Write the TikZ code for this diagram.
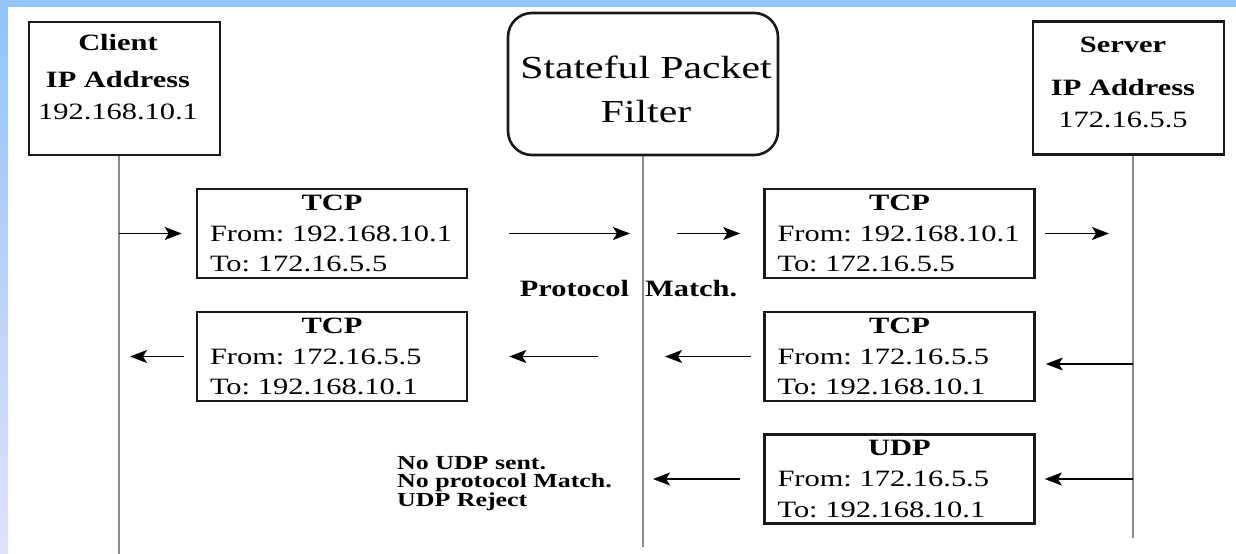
\documentclass[tikz,border=0pt]{standalone}
\usepackage{fontspec}
\setmainfont{Liberation Serif}[FakeStretch=1.3]
\usetikzlibrary{arrows.meta}

\definecolor{frameblue}{RGB}{146,196,246}
\definecolor{framepale}{RGB}{224,226,250}
\definecolor{lifegray}{RGB}{138,138,138}

\newcommand{\pktfont}{\fontsize{23.5}{31}\selectfont\frenchspacing}
\newcommand{\pkt}[3]{\makebox[\linewidth]{\bfseries #1}\\\mbox{From: #2}\\\mbox{To: #3}}

\tikzset{
  hostbox/.style={draw=black!90, line width=2.6bp, minimum width=191bp, minimum height=133bp, inner sep=0pt},
  filterbox/.style={hostbox, minimum width=270bp, minimum height=142bp, rounded corners=24bp},
  hosttext/.style={align=center, inner sep=0pt, font=\fontsize{23.5}{32}\selectfont},
  pktbox/.style={draw=black!90, line width=2.6bp, minimum height=89bp, text width=244bp,
    inner xsep=13bp, inner ysep=0pt, align=left, font=\pktfont},
  remark/.style={inner sep=0pt, align=left},
  life/.style={draw=lifegray, line width=2.4bp},
  msg/.style={-{Stealth[length=17bp,width=13bp,inset=4bp]}, line width=1.7bp},
}

\begin{document}
\begin{tikzpicture}[x=1bp,y=-1bp]
  \useasboundingbox (0,0) rectangle (1236,554);
  % frame
  \fill[frameblue] (0,0) rectangle (1236,7);
  \shade[top color=frameblue, bottom color=framepale] (0,7) rectangle (8,554);

  % hosts
  \node[hostbox] (client) at (124.5,88.5) {};
  \node[filterbox] (filter) at (643,84) {};
  \node[hostbox] (server) at (1128.5,88) {};
  \node[hosttext] (clienttxt) at (118,77) {{\bfseries Client}\\[5bp]{\bfseries IP Address}\\192.168.10.1};
  \node[hosttext, font=\fontsize{32.2}{44}\selectfont] (filtertxt) at (646,89.5) {Stateful Packet\\Filter};
  \node[hosttext] (servertxt) at (1123,82.5) {{\bfseries Server}\\[11bp]{\bfseries IP Address}\\172.16.5.5};

  % lifelines
  \coordinate (cbot) at (119,554);
  \coordinate (fbot) at (643,547);
  \coordinate (sbot) at (1133,538);
  \draw[life] (cbot |- client.south) -- (cbot);
  \draw[life] (fbot |- filter.south) -- (fbot);
  \draw[life] (sbot |- server.south) -- (sbot);

  % packets
  \node[pktbox] (tcpa) at (332,233.5) {\pkt{TCP}{192.168.10.1}{172.16.5.5}};
  \node[pktbox] (tcpb) at (899.5,233.5) {\pkt{TCP}{192.168.10.1}{172.16.5.5}};
  \node[pktbox] (tcpc) at (332,356.5) {\pkt{TCP}{172.16.5.5}{192.168.10.1}};
  \node[pktbox] (tcpd) at (899.5,356.5) {\pkt{TCP}{172.16.5.5}{192.168.10.1}};
  \node[pktbox] (udp) at (899.5,479) {\pkt{UDP}{172.16.5.5}{192.168.10.1}};

  \node[remark, font=\fontsize{23.5}{31}\selectfont\bfseries, anchor=base] (match) at (628.5,297)
    {Protocol\hspace{16bp}Match.};
  \node[remark, font=\fontsize{20}{18.5}\selectfont\bfseries, anchor=west] (reject) at (397,483.5)
    {No UDP sent.\\No protocol Match.\\UDP Reject};

  % request
  \draw[msg, shorten >=14bp] (cbot |- tcpa.west) -- (tcpa.west);
  \draw[msg, shorten <=41bp, shorten >=13bp] (tcpa.east) -- (fbot |- tcpa.east);
  \draw[msg, shorten <=34bp, shorten >=23bp] (fbot |- tcpb.west) -- (tcpb.west);
  \draw[msg, shorten <=9bp, shorten >=24bp] (tcpb.east) -- (sbot |- tcpb.east);

  % reply
  \coordinate (sd) at (1133,364);
  \draw[msg, shorten >=10bp] (sd) -- (sd -| tcpd.east);
  \draw[msg, shorten <=12bp, shorten >=22bp] (tcpd.west) -- (fbot |- tcpd.west);
  \draw[msg, shorten <=45bp, shorten >=41bp] (fbot |- tcpc.east) -- (tcpc.east);
  \draw[msg, shorten <=12bp, shorten >=11bp] (tcpc.west) -- (cbot |- tcpc.west);

  % udp
  \draw[msg, shorten >=9bp] (sbot |- udp.east) -- (udp.east);
  \draw[msg, shorten <=23bp, shorten >=10bp] (udp.west) -- (fbot |- udp.west);
\end{tikzpicture}
\end{document}
